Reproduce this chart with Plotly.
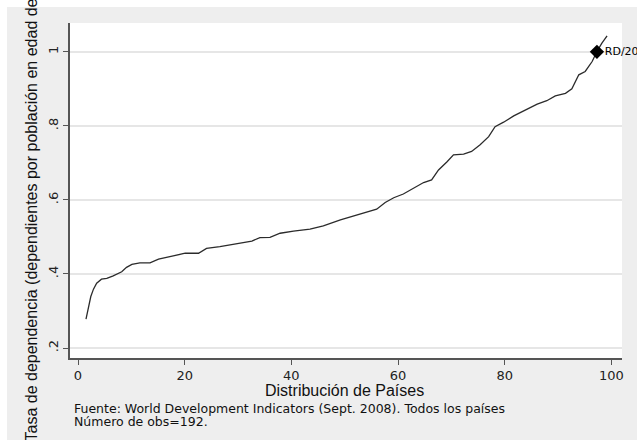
import plotly.graph_objects as go

# Percentile position of each country (x) and dependency ratio (y)
pct = [1.5, 1.9, 2.4, 2.9, 3.5, 4.4, 5.4, 6.6, 8.2, 9.1, 10.1, 11.6, 13.5, 15.1, 17.3,
       20.1, 22.6, 24.1, 26.6, 29.8, 32.6, 34.1, 36.0, 37.9, 40.4, 43.5, 46.0, 49.2,
       52.3, 54.1, 56.0, 57.6, 59.2, 61.0, 63.5, 64.8, 66.3, 67.6, 69.2, 70.4, 72.3,
       73.8, 75.4, 77.0, 78.2, 79.8, 81.7, 83.9, 86.1, 87.9, 89.5, 91.4, 92.6, 93.9,
       95.1, 96.4, 97.3, 98.2, 99.2]
ratio = [0.278, 0.307, 0.339, 0.359, 0.375, 0.386, 0.388, 0.395, 0.406, 0.418, 0.426,
         0.430, 0.430, 0.440, 0.447, 0.456, 0.456, 0.469, 0.474, 0.481, 0.489, 0.498,
         0.499, 0.510, 0.516, 0.521, 0.530, 0.546, 0.559, 0.568, 0.575, 0.593, 0.606,
         0.616, 0.636, 0.647, 0.654, 0.681, 0.703, 0.722, 0.724, 0.731, 0.749, 0.771,
         0.798, 0.810, 0.827, 0.843, 0.859, 0.868, 0.881, 0.888, 0.900, 0.938, 0.947,
         0.974, 1.001, 1.023, 1.043]

rd_x = [97.3]
rd_y = [1.0]
rd_label = ["RD/2006"]

x_ticks = [0, 20, 40, 60, 80, 100]
x_tick_text = ["0", "20", "40", "60", "80", "100"]
y_ticks = [0.2, 0.4, 0.6, 0.8, 1.0]
y_tick_text = [".2", ".4", ".6", ".8", "1"]

x_title = "Distribución de Países"
y_title = "Tasa de dependencia (dependientes por población en edad de trabajar)"
note1 = "Fuente: World Development Indicators (Sept. 2008). Todos los países"
note2 = "Número de obs=192."

W, H = 637, 440
L, T = 70, 23
pw, ph = 552, 335
R = W - L - pw
B = H - T - ph

def px_x(p):  # page pixel -> paper x
    return (p - L) / pw

def px_y(p):  # page pixel -> paper y
    return 1 - (p - T) / ph

fig = go.Figure()
fig.add_trace(go.Scatter(x=pct, y=ratio, mode="lines",
                         line=dict(color="#2b2b2b", width=1.3),
                         hoverinfo="skip", showlegend=False))
fig.add_trace(go.Scatter(x=rd_x, y=rd_y, mode="markers+text", text=rd_label,
                         textposition="middle right",
                         textfont=dict(family="DejaVu Sans", size=11, color="#000"),
                         marker=dict(symbol="diamond", size=11, color="#000"),
                         cliponaxis=False, showlegend=False))

fig.update_layout(
    width=W, height=H,
    margin=dict(l=L, r=R, t=T, b=B),
    paper_bgcolor="#EEEEEE",
    plot_bgcolor="#FFFFFF",
    xaxis=dict(range=[-1.5, 102], tickvals=x_ticks, ticktext=x_tick_text,
               showgrid=False, zeroline=False, showline=True, linecolor="#555555",
               linewidth=1.5, ticks="outside", ticklen=5, tickwidth=1.3, tickcolor="#555555",
               tickfont=dict(family="DejaVu Sans", size=13, color="#222")),
    yaxis=dict(range=[0.173, 1.078], tickvals=y_ticks, ticktext=y_tick_text,
               showgrid=True, gridcolor="#E6E6E6", gridwidth=1.5, zeroline=False,
               showline=True, linecolor="#555555", linewidth=1.5, ticks="outside",
               ticklen=5, tickwidth=1.3, tickcolor="#555555", tickangle=-90,
               tickfont=dict(family="DejaVu Sans", size=13, color="#222")),
    shapes=[
        dict(type="rect", xref="paper", yref="paper", x0=px_x(-5), x1=px_x(W + 5),
             y0=px_y(7), y1=px_y(-5), fillcolor="#FFFFFF", line=dict(width=0), layer="below"),
        dict(type="rect", xref="paper", yref="paper", x0=px_x(-5), x1=px_x(7),
             y0=px_y(H + 5), y1=px_y(-5), fillcolor="#FFFFFF", line=dict(width=0), layer="below"),
    ],
    annotations=[
        dict(text=x_title, xref="paper", yref="paper", x=px_x(344), y=px_y(390),
             xanchor="center", yanchor="middle", showarrow=False,
             font=dict(family="Liberation Sans", size=16, color="#111")),
        dict(text=y_title, xref="paper", yref="paper", x=px_x(31), y=px_y(444),
             xanchor="center", yanchor="bottom", textangle=-90, showarrow=False,
             font=dict(family="Liberation Sans", size=16, color="#111")),
        dict(text=note1, xref="paper", yref="paper", x=px_x(72), y=px_y(408.5),
             xanchor="left", yanchor="middle", showarrow=False,
             font=dict(family="DejaVu Sans", size=12.5, color="#111")),
        dict(text=note2, xref="paper", yref="paper", x=px_x(72), y=px_y(421),
             xanchor="left", yanchor="middle", showarrow=False,
             font=dict(family="DejaVu Sans", size=12.5, color="#111")),
    ],
)

fig.write_html(
    "out.html",
    config={"displayModeBar": False},
    post_script="document.body.style.margin='0';"
                "document.documentElement.style.overflow='hidden';"
                "document.body.style.overflow='hidden';",
)
